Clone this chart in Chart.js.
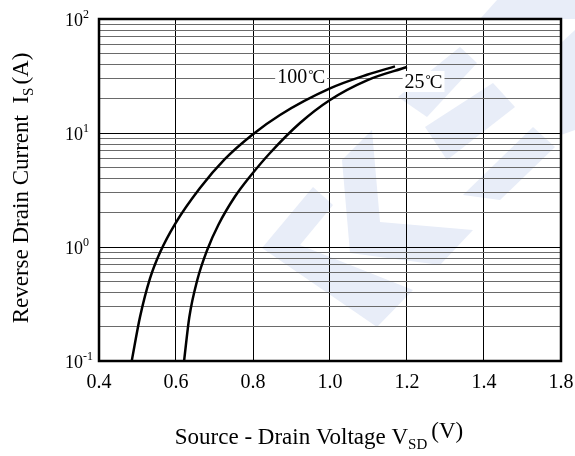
<!DOCTYPE html>
<html>
<head>
<meta charset="utf-8">
<script src="https://cdn.jsdelivr.net/npm/chart.js@4.4.0/dist/chart.umd.min.js"></script>
<style>
  html, body { margin: 0; padding: 0; background: #fff; }
  #wrap { width: 575px; height: 456px; position: relative; }
</style>
</head>
<body>
<div id="wrap"><canvas id="chart"></canvas></div>
<script>
// curve data
const vsd100 = [0.485, 0.5065, 0.5325, 0.5584, 0.5974, 0.6623, 0.7273, 0.7974, 0.8701, 1.0, 1.0961, 1.1688];
const is100 = [0.1, 0.243, 0.530, 0.895, 1.59, 3.29, 5.92, 9.61, 14.4, 24.6, 32.4, 38.4];
const vsd25 = [0.621, 0.6345, 0.6553, 0.6813, 0.7099, 0.7532, 0.7922, 0.8442, 0.9221, 1.0, 1.0961, 1.2];
const is25 = [0.1, 0.2415, 0.5135, 0.947, 1.56, 2.77, 4.15, 6.68, 12.24, 19.5, 29.0, 37.9];

// axis ticks (the sheet jumps from 1.4 straight to 1.8 at the last line)
const xTickValues = [0.4, 0.6, 0.8, 1.0, 1.2, 1.4, 1.6];
const xTickLabels = ["0.4", "0.6", "0.8", "1.0", "1.2", "1.4", "1.8"];
const yDecades = [0.1, 1, 10, 100];
const yExponents = ["-1", "0", "1", "2"];
const yMinors = [2, 3, 4, 5, 6, 7, 8, 9];

const curveLabels = [
    { num: "100", v: 0.925, i: 31.6 },
    { num: "25", v: 1.243, i: 28.6 },
];

const SERIF = "'Liberation Serif', 'Times New Roman', serif";

function toPoints(xs, ys) {
    return xs.map((x, k) => ({ x: x, y: ys[k] }));
}

function yGridValues() {
    let vals = [];
    for (let d = 0; d < yDecades.length; d++) {
        vals.push(yDecades[d]);
        if (d < yDecades.length - 1) {
            yMinors.forEach((m) => vals.push(m * yDecades[d]));
        }
    }
    return vals.sort((a, b) => a - b);
}

function isDecade(v) {
    return yDecades.some((d) => Math.abs(d - v) < 1e-9);
}

// draws text pieces in a row, with size and vertical shift for sub/superscripts
function drawRich(ctx, parts, x, y) {
    let total = 0;
    parts.forEach((p) => {
        ctx.font = p.size + "px " + SERIF;
        p.w = ctx.measureText(p.t).width;
        total += p.w + (p.gap || 0);
    });
    let cx = x - total / 2;
    parts.forEach((p) => {
        ctx.font = p.size + "px " + SERIF;
        cx += p.gap || 0;
        ctx.fillText(p.t, cx, y + (p.dy || 0));
        cx += p.w;
    });
    return total;
}

// faint logo in the background
const watermark = [
    [[497, 0], [575, 0], [575, 19], [480, 19]],
    [[561, 43], [575, 30], [575, 130], [561, 135]],
    [[398, 97], [460, 47], [477, 63], [427, 117]],
    [[425, 127], [493, 83], [515, 107], [447, 160]],
    [[533, 127], [555, 147], [500, 200], [463, 195]],
    [[342, 160], [372, 130], [380, 222], [473, 230], [440, 265], [350, 253]],
    [[313, 187], [333, 205], [300, 245], [413, 290], [377, 327], [262, 248]],
];

const overlay = {
    id: "overlay",
    beforeDraw(chart) {
        const ctx = chart.ctx;
        ctx.save();
        ctx.fillStyle = "#fff";
        ctx.fillRect(0, 0, chart.width, chart.height);
        ctx.fillStyle = "#e8edf8";
        watermark.forEach((poly) => {
            ctx.beginPath();
            poly.forEach((p, k) => (k ? ctx.lineTo(p[0], p[1]) : ctx.moveTo(p[0], p[1])));
            ctx.closePath();
            ctx.fill();
        });
        ctx.restore();
    },
    afterDatasetsDraw(chart) {
        const ctx = chart.ctx;
        const xs = chart.scales.x;
        const ys = chart.scales.y;
        ctx.save();
        ctx.textBaseline = "alphabetic";
        ctx.textAlign = "left";
        curveLabels.forEach((l) => {
            const px = xs.getPixelForValue(l.v);
            const py = ys.getPixelForValue(l.i);
            const parts = [
                { t: l.num, size: 20 },
                { t: "\u00b0", size: 13, dy: -5, gap: 1 },
                { t: "C", size: 19, gap: -1 },
            ];
            let w = 0;
            parts.forEach((p) => {
                ctx.font = p.size + "px " + SERIF;
                w += ctx.measureText(p.t).width + (p.gap || 0);
            });
            ctx.fillStyle = "#fff";
            ctx.fillRect(px - w / 2 - 2, py - 10, w + 4, 21);
            ctx.fillStyle = "#000";
            drawRich(ctx, parts, px, py + 7);
        });
        ctx.restore();
    },
    afterDraw(chart) {
        const ctx = chart.ctx;
        const a = chart.chartArea;
        const ys = chart.scales.y;
        ctx.save();
        // frame
        ctx.strokeStyle = "#000";
        ctx.lineWidth = 2.5;
        ctx.strokeRect(a.left, a.top, a.right - a.left, a.bottom - a.top);
        // y tick labels 10^n
        ctx.fillStyle = "#000";
        ctx.textBaseline = "alphabetic";
        yDecades.forEach((d, k) => {
            const py = ys.getPixelForValue(d);
            ctx.font = "18px " + SERIF;
            ctx.textAlign = "right";
            ctx.fillText("10", 83, py + 7);
            ctx.font = "12px " + SERIF;
            ctx.textAlign = "left";
            ctx.fillText(yExponents[k], 83, py - 1);
        });
        ctx.textAlign = "left";
        // x title
        drawRich(ctx, [
            { t: "Source - Drain Voltage V", size: 23 },
            { t: "SD", size: 15, dy: 5 },
            { t: "(V)", size: 23, dy: -6, gap: 4 },
        ], 319, 444);
        // y title
        ctx.translate(28, 188);
        ctx.rotate(-Math.PI / 2);
        drawRich(ctx, [
            { t: "Reverse Drain Current  I", size: 23 },
            { t: "S", size: 15, dy: 5 },
            { t: "(A)", size: 23, dy: 0, gap: 3 },
        ], 0, 0);
        ctx.restore();
    },
};

const chart = new Chart(document.getElementById("chart").getContext("2d"), {
    type: "line",
    data: {
        datasets: [{
                label: "100\u00b0C",
                data: toPoints(vsd100, is100),
                borderColor: "#000",
                borderWidth: 2.5,
                pointRadius: 0,
                fill: false,
                cubicInterpolationMode: "monotone",
            },
            {
                label: "25\u00b0C",
                data: toPoints(vsd25, is25),
                borderColor: "#000",
                borderWidth: 2.5,
                pointRadius: 0,
                fill: false,
                cubicInterpolationMode: "monotone",
            },
        ],
    },
    options: {
        responsive: true,
        maintainAspectRatio: false,
        animation: false,
        events: [],
        layout: { padding: { left: 0, top: 19, right: 14, bottom: 0 } },
        plugins: {
            legend: { display: false },
            tooltip: { enabled: false },
        },
        scales: {
            x: {
                type: "linear",
                min: 0.4,
                max: 1.6,
                afterBuildTicks: (s) => {
                    s.ticks = xTickValues.map((v) => ({ value: v }));
                },
                afterFit: (s) => {
                    s.height = 95;
                    s.paddingLeft = 0;
                    s.paddingRight = 0;
                },
                ticks: {
                    autoSkip: false,
                    maxRotation: 0,
                    padding: 10,
                    color: "#000",
                    font: { family: SERIF, size: 20 },
                    callback: (v, i) => xTickLabels[i],
                },
                grid: { color: "#000", lineWidth: 1, drawTicks: false },
                border: { display: false },
            },
            y: {
                type: "logarithmic",
                min: 0.1,
                max: 100,
                afterBuildTicks: (s) => {
                    s.ticks = yGridValues().map((v) => ({ value: v, major: isDecade(v) }));
                },
                afterFit: (s) => {
                    s.width = 99;
                    s.paddingTop = 0;
                    s.paddingBottom = 0;
                },
                ticks: { display: false },
                grid: {
                    drawTicks: false,
                    lineWidth: 1,
                    color: (c) => (isDecade(c.tick.value) ? "#000" : "#6a6a6a"),
                },
                border: { display: false },
            },
        },
    },
    plugins: [overlay],
});
</script>
</body>
</html>
